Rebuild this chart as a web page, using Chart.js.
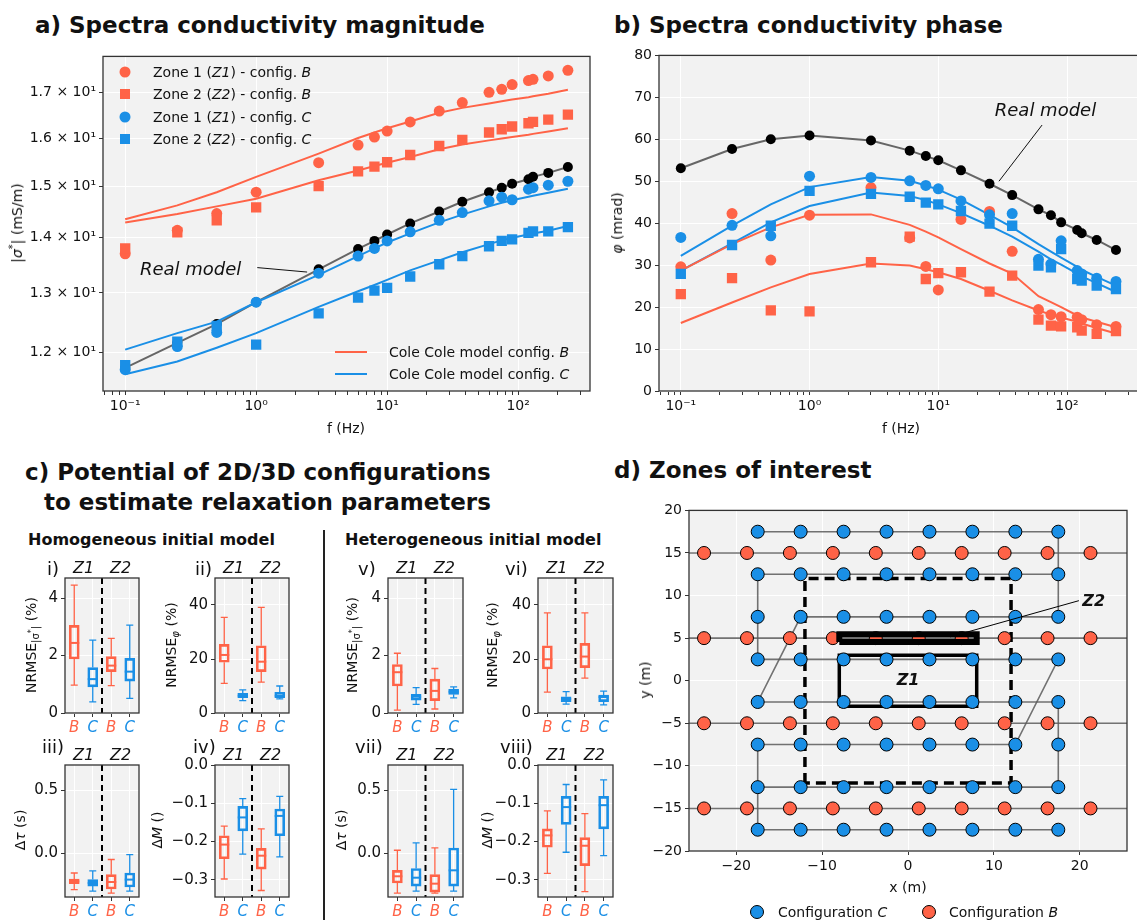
<!DOCTYPE html>
<html>
<head>
<meta charset="utf-8">
<script src="https://cdn.jsdelivr.net/npm/chart.js@4.4.1/dist/chart.umd.min.js"></script>
<style>
  body { margin: 0; width: 1137px; height: 920px; overflow: hidden; background: #fff; position: relative;
         font-family: 'DejaVu Sans', sans-serif; color: #111; }
  canvas { position: absolute; }
  .t { position: absolute; white-space: nowrap; line-height: 1; }
  .l { transform: translateY(-50%); }
  .c { transform: translate(-50%, -50%); }
  .rot { transform: translate(-50%, -50%) rotate(-90deg); }
  .h { font-weight: bold; font-size: 23px; }
  .h2 { font-weight: bold; font-size: 16px; }
  .ax { font-size: 14px; }
  .rn { font-size: 18px; }
  .sub { font-size: 10px; vertical-align: -3px; }
  .sup { font-size: 10px; vertical-align: 6px; }
  .dot { position: absolute; transform: translate(-50%, -50%); }
</style>
</head>
<body>
<script>
const RED = '#ff6347';
const BLUE = '#1a8fe6';

// frequencies (Hz)
const freq = [0.1, 0.25, 0.5, 1, 3, 6, 8, 10, 15, 25, 37.5, 60, 75, 90, 120, 130, 170, 240];

// a) |sigma*| (mS/m)
const magReal = [11.76, 12.16, 12.47, 12.84, 13.42, 13.79, 13.94, 14.06, 14.27, 14.50, 14.69, 14.88, 14.97, 15.05, 15.14, 15.19, 15.27, 15.39];
const magZ1B = [13.70, 14.14, 14.46, 14.88, 15.48, 15.85, 16.02, 16.15, 16.35, 16.59, 16.78, 17.01, 17.08, 17.19, 17.28, 17.31, 17.39, 17.52];
const magZ2B = [13.80, 14.10, 14.33, 14.58, 15.00, 15.30, 15.40, 15.49, 15.64, 15.83, 15.96, 16.12, 16.19, 16.25, 16.32, 16.35, 16.40, 16.51];
const magZ1C = [11.73, 12.10, 12.33, 12.84, 13.35, 13.66, 13.80, 13.94, 14.11, 14.33, 14.48, 14.71, 14.78, 14.73, 14.94, 14.97, 15.02, 15.10];
const magZ2C = [11.80, 12.18, 12.44, 12.13, 12.65, 12.92, 13.04, 13.09, 13.29, 13.51, 13.66, 13.84, 13.94, 13.97, 14.09, 14.12, 14.12, 14.20];
const magFitZ1B = [14.35, 14.62, 14.88, 15.19, 15.67, 16.00, 16.12, 16.21, 16.36, 16.55, 16.66, 16.76, 16.81, 16.85, 16.90, 16.92, 16.98, 17.07];
const magFitZ2B = [14.29, 14.45, 14.60, 14.75, 15.12, 15.32, 15.41, 15.48, 15.60, 15.76, 15.86, 15.95, 15.99, 16.02, 16.07, 16.09, 16.14, 16.21];
const magFitZ1C = [12.05, 12.32, 12.51, 12.84, 13.32, 13.66, 13.80, 13.91, 14.08, 14.29, 14.44, 14.60, 14.67, 14.72, 14.79, 14.81, 14.87, 14.95];
const magFitZ2C = [11.66, 11.86, 12.08, 12.32, 12.76, 13.03, 13.14, 13.23, 13.40, 13.58, 13.73, 13.88, 13.95, 14.00, 14.06, 14.08, 14.13, 14.22];

// b) phase (mrad)
const phaReal = [53.1, 57.7, 60.0, 60.9, 59.7, 57.3, 56.0, 55.0, 52.6, 49.4, 46.7, 43.3, 41.9, 40.2, 38.4, 37.6, 36.0, 33.6];
const phaZ1B = [29.6, 42.3, 31.2, 41.9, 48.5, 36.5, 29.7, 24.1, 40.9, 42.8, 33.3, 19.4, 18.2, 17.7, 17.6, 17.0, 15.8, 15.4];
const phaZ2B = [23.1, 26.9, 19.2, 19.0, 30.7, 36.8, 26.7, 28.1, 28.3, 23.7, 27.5, 17.0, 15.6, 15.4, 15.2, 14.4, 13.6, 14.3];
const phaZ1C = [36.6, 39.5, 37.0, 51.2, 50.9, 50.1, 49.0, 48.2, 45.3, 42.0, 42.3, 31.4, 30.3, 35.8, 28.7, 27.9, 26.9, 26.1];
const phaZ2C = [27.9, 34.8, 39.4, 47.7, 47.0, 46.3, 44.9, 44.5, 42.9, 39.9, 39.4, 29.9, 29.5, 33.8, 26.7, 26.3, 25.1, 24.3];
const phaFitZ1B = [28.7, 35.0, 39.0, 42.0, 42.1, 39.6, 38.0, 36.6, 33.8, 30.4, 28.0, 22.6, 21.2, 20.0, 18.0, 17.5, 16.5, 15.2];
const phaFitZ2B = [16.2, 21.1, 24.7, 27.9, 30.4, 29.9, 29.0, 28.3, 26.7, 23.9, 21.6, 19.2, 18.2, 17.5, 16.5, 16.1, 15.0, 13.7];
const phaFitZ1C = [32.2, 39.4, 44.5, 48.6, 51.0, 50.1, 49.0, 48.0, 45.6, 42.0, 39.0, 35.0, 33.2, 31.8, 29.6, 28.9, 27.2, 25.1];
const phaFitZ2C = [28.7, 35.2, 40.2, 44.1, 47.3, 46.5, 45.5, 44.5, 42.4, 39.4, 36.8, 33.2, 31.4, 30.1, 28.0, 27.3, 25.7, 23.6];

// tick values / labels
const logTicks = [0.07, 0.08, 0.09, 0.1, 0.2, 0.3, 0.4, 0.5, 0.6, 0.7, 0.8, 0.9, 1, 2, 3, 4, 5, 6, 7, 8, 9,
                  10, 20, 30, 40, 50, 60, 70, 80, 90, 100, 200, 300];
const decadeLabels = { 0.1: '10\u207B\u00B9', 1: '10\u2070', 10: '10\u00B9', 100: '10\u00B2' };
const magTicks = [12, 13, 14, 15, 16, 17];
const magTickLabels = ['1.2 \u00D7 10\u00B9', '1.3 \u00D7 10\u00B9', '1.4 \u00D7 10\u00B9', '1.5 \u00D7 10\u00B9', '1.6 \u00D7 10\u00B9', '1.7 \u00D7 10\u00B9'];
const phaTicks = [0, 10, 20, 30, 40, 50, 60, 70, 80];

// c) boxes: [low whisker, Q1, median, Q3, high whisker] for Z1-B, Z1-C, Z2-B, Z2-C
const boxCats = ['B', 'C', 'B', 'C'];
const zoneNames = ['Z1', 'Z2'];
const homMag = [[0.97, 1.88, 2.44, 3.05, 4.45], [0.39, 0.91, 1.18, 1.58, 2.54], [0.95, 1.44, 1.65, 1.96, 2.60], [0.51, 1.11, 1.44, 1.90, 3.06]];
const homPha = [[11.0, 18.8, 21.5, 25.4, 35.4], [4.6, 5.7, 6.4, 7.3, 8.6], [11.4, 15.3, 19.0, 24.9, 39.1], [5.2, 5.7, 6.4, 7.7, 10.0]];
const homTau = [[-0.284, -0.237, -0.219, -0.200, -0.153], [-0.295, -0.256, -0.232, -0.205, -0.137], [-0.311, -0.279, -0.224, -0.166, -0.047], [-0.295, -0.263, -0.205, -0.153, -0.008]];
const homM = [[-0.298, -0.245, -0.208, -0.185, -0.160], [-0.233, -0.172, -0.137, -0.108, -0.088], [-0.328, -0.272, -0.237, -0.218, -0.167], [-0.240, -0.185, -0.133, -0.115, -0.082]];
const hetMag = [[0.10, 0.94, 1.42, 1.69, 2.08], [0.30, 0.45, 0.57, 0.65, 0.88], [0.14, 0.43, 0.77, 1.18, 1.55], [0.53, 0.65, 0.74, 0.82, 0.91]];
const hetPha = [[7.7, 16.3, 19.9, 24.9, 37.1], [3.3, 4.2, 5.2, 6.0, 7.9], [12.9, 16.8, 20.9, 25.8, 37.1], [3.0, 4.2, 5.9, 6.6, 8.1]];
const hetTau = [[-0.311, -0.232, -0.179, -0.132, 0.026], [-0.295, -0.256, -0.190, -0.118, 0.084], [-0.311, -0.303, -0.237, -0.166, 0.044], [-0.295, -0.256, -0.132, 0.044, 0.505]];
const hetM = [[-0.283, -0.215, -0.184, -0.167, -0.120], [-0.228, -0.155, -0.110, -0.082, -0.051], [-0.331, -0.263, -0.211, -0.190, -0.127], [-0.237, -0.167, -0.105, -0.082, -0.039]];

// d) electrode layout (m)
const elecCx = [-17.5, -12.5, -7.5, -2.5, 2.5, 7.5, 12.5, 17.5];
const elecCy = [17.5, 12.5, 7.5, 2.5, -2.5, -7.5, -12.5, -17.5];
const elecBx = [-23.75, -18.75, -13.75, -8.75, -3.75, 1.25, 6.25, 11.25, 16.25, 21.25];
const elecBy = [15, 5, -5, -15];
const cableB = [[[-26, 15], [26, 15]], [[-26, 5], [26, 5]], [[-26, -5], [26, -5]], [[-26, -15], [26, -15]]];
const cableC = [
  [[17.5, 12.5], [-17.5, 12.5], [-17.5, 2.5], [17.5, 2.5], [12.5, -7.5], [-17.5, -7.5], [-17.5, -17.5], [17.5, -17.5]],
  [[-17.5, -12.5], [17.5, -12.5], [17.5, -2.5], [-17.5, -2.5], [-12.5, 7.5], [17.5, 7.5], [17.5, 17.5], [-17.5, 17.5]]
];
const zoneBig = [[-12, -12], [-12, 12], [12, 12], [12, -12], [-12, -12]];
const zone1 = [[-8, -3], [-8, 3], [8, 3], [8, -3], [-8, -3]];
const zone2 = [[-8, 4.55], [-8, 5.45], [8, 5.45], [8, 4.55], [-8, 4.55]];

Chart.defaults.font.family = "'DejaVu Sans', sans-serif";
Chart.defaults.font.size = 14;
Chart.defaults.color = '#111';

// light background + black frame like the matplotlib axes
Chart.register({
  id: 'frame',
  beforeDraw(chart) {
    const a = chart.chartArea, ctx = chart.ctx;
    ctx.save();
    ctx.fillStyle = '#f2f2f2';
    ctx.fillRect(a.left, a.top, a.right - a.left, a.bottom - a.top);
    ctx.restore();
  },
  afterDraw(chart) {
    const a = chart.chartArea, ctx = chart.ctx;
    ctx.save();
    ctx.strokeStyle = '#333';
    ctx.lineWidth = 1.3;
    ctx.strokeRect(a.left, a.top, a.right - a.left, a.bottom - a.top);
    ctx.restore();
  }
});

function notes(list) {
  return {
    id: 'notes',
    afterDatasetsDraw(chart) {
      const { ctx, scales: { x, y } } = chart;
      ctx.save();
      list.forEach(n => {
        ctx.font = n.font;
        ctx.fillStyle = '#111';
        ctx.textAlign = n.align;
        ctx.textBaseline = 'middle';
        ctx.fillText(n.text, x.getPixelForValue(n.x), y.getPixelForValue(n.y));
      });
      ctx.restore();
    }
  };
}

function makeChart(r, pad, cfg) {
  const cv = document.createElement('canvas');
  const w = r.r - r.l + pad.l + pad.r, h = r.b - r.t + pad.t + pad.b;
  cv.width = w; cv.height = h;
  cv.style.left = (r.l - pad.l) + 'px';
  cv.style.top = (r.t - pad.t) + 'px';
  document.body.appendChild(cv);
  cfg.options.responsive = false;
  cfg.options.animation = false;
  cfg.options.devicePixelRatio = 1;
  cfg.options.events = [];
  return new Chart(cv, cfg);
}

function txt(html, x, y, cls, style) {
  const d = document.createElement('div');
  d.className = 't ' + cls;
  d.innerHTML = html;
  d.style.left = x + 'px';
  d.style.top = y + 'px';
  if (style) d.style.cssText += style;
  document.body.appendChild(d);
}

const pts = arr => freq.map((f, i) => ({ x: f, y: arr[i] }));
const xy = arr => arr.map(p => ({ x: p[0], y: p[1] }));
const tickGrid = { color: '#fff', lineWidth: 1, tickColor: '#333', tickLength: 4 };

function dataSet(arr, color, style, radius, order) {
  return { data: pts(arr), showLine: false, pointStyle: style, pointRadius: radius,
           pointBackgroundColor: color, pointBorderWidth: 0, order: order };
}
function fitSet(arr, color) {
  return { data: pts(arr), showLine: true, borderColor: color, borderWidth: 2, pointRadius: 0, order: 8 };
}
function realSet(arr) {
  return { data: pts(arr), showLine: true, borderColor: '#666', borderWidth: 2, pointRadius: 5,
           pointBackgroundColor: '#000', pointBorderWidth: 0, order: 10 };
}
function logX(padB) {
  return {
    type: 'logarithmic', min: 0.0677, max: 354,
    grid: { ...tickGrid, color: c => (c.tick && decadeLabels[c.tick.value]) ? '#fff' : 'rgba(0,0,0,0)' },
    border: { display: false },
    afterBuildTicks: s => { s.ticks = logTicks.map(v => ({ value: v })); },
    ticks: { autoSkip: false, maxRotation: 0, padding: 3, callback: v => decadeLabels[v] || '' },
    afterFit: s => { s.height = padB; }
  };
}

// ---------- a) magnitude ----------
makeChart({ l: 103, t: 55, r: 590, b: 391 }, { l: 103, r: 12, t: 10, b: 50 }, {
  type: 'scatter',
  data: { datasets: [
    realSet(magReal),
    fitSet(magFitZ1B, RED), fitSet(magFitZ2B, RED), fitSet(magFitZ1C, BLUE), fitSet(magFitZ2C, BLUE),
    dataSet(magZ1B, RED, 'circle', 5.5, 4), dataSet(magZ2B, RED, 'rect', 7.3, 3),
    dataSet(magZ1C, BLUE, 'circle', 5.5, 2), dataSet(magZ2C, BLUE, 'rect', 7.3, 1),
    { data: xy([[1.02, 13.45], [2.45, 13.37]]), showLine: true, borderColor: '#111', borderWidth: 1, pointRadius: 0, order: 0 }
  ] },
  options: {
    layout: { padding: { left: 0, right: 12, top: 10, bottom: 0 } },
    plugins: { legend: { display: false }, tooltip: { enabled: false } },
    scales: {
      x: logX(50),
      y: {
        type: 'logarithmic', min: 11.42, max: 17.85,
        grid: tickGrid, border: { display: false },
        afterBuildTicks: s => { s.ticks = magTicks.map(v => ({ value: v })); },
        ticks: { autoSkip: false, padding: 3, callback: (v, i) => magTickLabels[i] },
        afterFit: s => { s.width = 103; }
      }
    }
  },
  plugins: [notes([{ x: 0.77, y: 13.4, text: 'Real model', align: 'right', font: "italic 18px 'DejaVu Sans'" }])]
});

// ---------- b) phase ----------
makeChart({ l: 659, t: 54, r: 1143, b: 391 }, { l: 50, r: 2, t: 10, b: 50 }, {
  type: 'scatter',
  data: { datasets: [
    realSet(phaReal),
    fitSet(phaFitZ1B, RED), fitSet(phaFitZ2B, RED), fitSet(phaFitZ1C, BLUE), fitSet(phaFitZ2C, BLUE),
    dataSet(phaZ1B, RED, 'circle', 5.5, 4), dataSet(phaZ2B, RED, 'rect', 7.3, 3),
    dataSet(phaZ1C, BLUE, 'circle', 5.5, 2), dataSet(phaZ2C, BLUE, 'rect', 7.3, 1),
    { data: xy([[64, 63.4], [29.6, 50.0]]), showLine: true, borderColor: '#111', borderWidth: 1, pointRadius: 0, order: 0 }
  ] },
  options: {
    layout: { padding: { left: 0, right: 2, top: 10, bottom: 0 } },
    plugins: { legend: { display: false }, tooltip: { enabled: false } },
    scales: {
      x: logX(50),
      y: {
        min: 0, max: 80, grid: tickGrid, border: { display: false },
        afterBuildTicks: s => { s.ticks = phaTicks.map(v => ({ value: v })); },
        ticks: { padding: 3 },
        afterFit: s => { s.width = 50; }
      }
    }
  },
  plugins: [notes([{ x: 68, y: 66.7, text: 'Real model', align: 'center', font: "italic 18px 'DejaVu Sans'" }])]
});

// ---------- c) box plots ----------
const boxColors = [RED, BLUE, RED, BLUE];
const minus = v => String(v).replace('-', '\u2212');

function boxChart(r, stats, yMin, yMax, yTicks, yLabels) {
  const whiskers = {
    id: 'whiskers',
    afterDatasetsDraw(chart) {
      const { ctx, chartArea: a, scales: { x, y, xTop } } = chart;
      ctx.save();
      stats.forEach((s, i) => {
        const px = x.getPixelForValue(i);
        ctx.strokeStyle = boxColors[i];
        ctx.lineWidth = 1.3;
        ctx.beginPath();
        ctx.moveTo(px, y.getPixelForValue(s[0])); ctx.lineTo(px, y.getPixelForValue(s[1]));
        ctx.moveTo(px, y.getPixelForValue(s[3])); ctx.lineTo(px, y.getPixelForValue(s[4]));
        ctx.moveTo(px - 3.5, y.getPixelForValue(s[0])); ctx.lineTo(px + 3.5, y.getPixelForValue(s[0]));
        ctx.moveTo(px - 3.5, y.getPixelForValue(s[4])); ctx.lineTo(px + 3.5, y.getPixelForValue(s[4]));
        ctx.stroke();
        ctx.lineWidth = 2;
        ctx.beginPath();
        ctx.moveTo(px - 5, y.getPixelForValue(s[2])); ctx.lineTo(px + 5, y.getPixelForValue(s[2]));
        ctx.stroke();
      });
      const sx = xTop.getPixelForValue(1.5);
      ctx.strokeStyle = '#000';
      ctx.lineWidth = 2;
      ctx.setLineDash([6, 4]);
      ctx.beginPath();
      ctx.moveTo(sx, a.top); ctx.lineTo(sx, a.bottom);
      ctx.stroke();
      ctx.restore();
    }
  };
  return makeChart(r, { l: 48, r: 4, t: 24, b: 28 }, {
    type: 'bar',
    data: { labels: boxCats, datasets: [{
      data: stats.map(s => [s[1], s[3]]),
      borderColor: boxColors, backgroundColor: 'rgba(0,0,0,0)',
      borderWidth: 2, borderSkipped: false, barThickness: 10
    }] },
    options: {
      layout: { padding: { left: 0, right: 4, top: 0, bottom: 0 } },
      plugins: { legend: { display: false }, tooltip: { enabled: false } },
      scales: {
        x: {
          grid: { ...tickGrid, offset: false }, border: { display: false },
          ticks: { color: c => boxColors[c.index], font: { size: 15, style: 'italic' }, padding: 2,
                   maxRotation: 0, minRotation: 0, autoSkip: false },
          afterFit: s => { s.height = 28; }
        },
        xTop: {
          type: 'linear', position: 'top', min: -0.5, max: 3.5, offset: false,
          grid: { display: false, drawTicks: false, offset: false }, border: { display: false },
          afterBuildTicks: s => { s.ticks = [{ value: 0.5 }, { value: 2.5 }]; },
          ticks: { callback: (v, i) => zoneNames[i], font: { size: 16, style: 'italic' }, padding: 0,
                   maxRotation: 0, minRotation: 0, autoSkip: false },
          afterFit: s => { s.height = 24; }
        },
        y: {
          min: yMin, max: yMax, grid: tickGrid, border: { display: false },
          afterBuildTicks: s => { s.ticks = yTicks.map(v => ({ value: v })); },
          ticks: { font: { size: 15 }, padding: 3, callback: (v, i) => yLabels[i] },
          afterFit: s => { s.width = 48; }
        }
      }
    },
    plugins: [whiskers]
  });
}

const magAx = [0, 4.7, [0, 2, 4], ['0', '2', '4']];
const phaAx = [0, 50, [0, 20, 40], ['0', '20', '40']];
const tauAx = [-0.342, 0.697, [0, 0.5], ['0.0', '0.5']];
const mAx = [-0.345, 0, [0, -0.1, -0.2, -0.3], ['0.0', '\u22120.1', '\u22120.2', '\u22120.3']];

boxChart({ l: 65, t: 578, r: 139, b: 713 }, homMag, ...magAx);
boxChart({ l: 215, t: 578, r: 289, b: 713 }, homPha, ...phaAx);
boxChart({ l: 65, t: 765, r: 139, b: 897 }, homTau, ...tauAx);
boxChart({ l: 215, t: 765, r: 289, b: 897 }, homM, ...mAx);
boxChart({ l: 388, t: 578, r: 463, b: 713 }, hetMag, ...magAx);
boxChart({ l: 538, t: 578, r: 613, b: 713 }, hetPha, ...phaAx);
boxChart({ l: 388, t: 765, r: 463, b: 897 }, hetTau, ...tauAx);
boxChart({ l: 538, t: 765, r: 613, b: 897 }, hetM, ...mAx);

// ---------- d) zones of interest ----------
const lineSet = (arr, w, dash, order) => ({ data: xy(arr), showLine: true, borderColor: '#000', borderWidth: w,
  borderDash: dash || [], pointRadius: 0, order: order });
const cableSets = cableB.concat(cableC).map(c => ({ data: xy(c), showLine: true, borderColor: 'rgba(90,90,90,0.85)',
  borderWidth: 1.6, pointRadius: 0, order: 20 }));
const elecC = elecCy.flatMap(y => elecCx.map(x => ({ x, y })));
const elecB = elecBy.flatMap(y => elecBx.map(x => ({ x, y })));

makeChart({ l: 689, t: 509, r: 1127, b: 851 }, { l: 50, r: 10, t: 10, b: 30 }, {
  type: 'scatter',
  data: { datasets: cableSets.concat([
    lineSet(zoneBig, 3.5, [10, 6], 15),
    lineSet(zone1, 3.5, null, 14),
    { data: elecC, pointRadius: 6.5, pointBackgroundColor: BLUE, pointBorderColor: '#000', pointBorderWidth: 1, order: 5 },
    { data: elecB, pointRadius: 6.5, pointBackgroundColor: RED, pointBorderColor: '#000', pointBorderWidth: 1, order: 4 },
    lineSet(zone2, 6, null, 1),
    lineSet([[19.9, 9.4], [4.9, 5.15]], 1, null, 0)
  ]) },
  options: {
    layout: { padding: { left: 0, right: 10, top: 10, bottom: 0 } },
    plugins: { legend: { display: false }, tooltip: { enabled: false } },
    scales: {
      x: {
        type: 'linear', min: -25.5, max: 25.5, grid: tickGrid, border: { display: false },
        afterBuildTicks: s => { s.ticks = [-20, -10, 0, 10, 20].map(v => ({ value: v })); },
        ticks: { padding: 3, callback: v => minus(v) },
        afterFit: s => { s.height = 30; }
      },
      y: {
        min: -20, max: 20, grid: tickGrid, border: { display: false },
        afterBuildTicks: s => { s.ticks = [-20, -15, -10, -5, 0, 5, 10, 15, 20].map(v => ({ value: v })); },
        ticks: { padding: 3, callback: v => minus(v) },
        afterFit: s => { s.width = 50; }
      }
    }
  },
  plugins: [notes([
    { x: 0, y: 0, text: 'Z1', align: 'center', font: "italic bold 16px 'DejaVu Sans'" },
    { x: 20.3, y: 9.3, text: 'Z2', align: 'left', font: "italic bold 16px 'DejaVu Sans'" }
  ])]
});

// ---------- titles, axis labels, legends ----------
txt('a) Spectra conductivity magnitude', 35, 25, 'l h');
txt('b) Spectra conductivity phase', 614, 25, 'l h');
txt('c) Potential of 2D/3D configurations', 25, 472, 'l h');
txt('to estimate relaxation parameters', 44, 502, 'l h');
txt('d) Zones of interest', 614, 470, 'l h');

txt('f (Hz)', 346, 428, 'c ax');
txt('|<i>σ</i><span class="sup">*</span>| (mS/m)', 16, 223, 'rot ax');
txt('f (Hz)', 901, 428, 'c ax');
txt('<i>φ</i> (mrad)', 617, 223, 'rot ax');
txt('x (m)', 908, 887, 'c ax');
txt('y (m)', 645, 680, 'rot ax');

txt('Homogeneous initial model', 28, 540, 'l h2');
txt('Heterogeneous initial model', 345, 540, 'l h2');
const sep = document.createElement('div');
sep.style.cssText = 'position:absolute;left:323px;top:530px;width:1.5px;height:400px;background:#222;';
document.body.appendChild(sep);

[['i)', 47, 569], ['ii)', 195, 569], ['v)', 358, 569], ['vi)', 505, 569],
 ['iii)', 42, 747], ['iv)', 193, 747], ['vii)', 355, 747], ['viii)', 500, 747]]
  .forEach(r => txt(r[0], r[1], r[2], 'l rn'));

const nrmseMag = 'NRMSE<span class="sub">|σ<sup style="font-size:8px">*</sup>|</span> (%)';
const nrmsePha = 'NRMSE<span class="sub"><i>φ</i></span> (%)';
txt(nrmseMag, 32, 645, 'rot ax');
txt(nrmsePha, 172, 645, 'rot ax');
txt(nrmseMag, 353, 645, 'rot ax');
txt(nrmsePha, 493, 645, 'rot ax');
txt('Δ<i>τ</i> (s)', 20, 830, 'rot ax');
txt('Δ<i>M</i> ()', 157, 830, 'rot ax');
txt('Δ<i>τ</i> (s)', 341, 830, 'rot ax');
txt('Δ<i>M</i> ()', 487, 830, 'rot ax');

// legend of a)
function marker(x, y, color, shape, size, border) {
  const d = document.createElement('div');
  d.className = 'dot';
  d.style.cssText += `left:${x}px;top:${y}px;width:${size}px;height:${size}px;background:${color};` +
    (shape === 'circle' ? 'border-radius:50%;' : '') + (border ? 'border:1px solid #000;' : '');
  document.body.appendChild(d);
}
[['Zone 1 (<i>Z1</i>) - config. <i>B</i>', RED, 'circle', 72],
 ['Zone 2 (<i>Z2</i>) - config. <i>B</i>', RED, 'rect', 94],
 ['Zone 1 (<i>Z1</i>) - config. <i>C</i>', BLUE, 'circle', 117],
 ['Zone 2 (<i>Z2</i>) - config. <i>C</i>', BLUE, 'rect', 139]].forEach(e => {
  marker(125, e[3], e[1], e[2], e[2] === 'circle' ? 11 : 10);
  txt(e[0], 153, e[3], 'l ax');
});
[['Cole Cole model config. <i>B</i>', RED, 352], ['Cole Cole model config. <i>C</i>', BLUE, 374]].forEach(e => {
  const d = document.createElement('div');
  d.style.cssText = `position:absolute;left:335px;top:${e[2] - 1}px;width:32px;height:2px;background:${e[1]};`;
  document.body.appendChild(d);
  txt(e[0], 389, e[2], 'l ax');
});

// legend of d)
marker(757, 912, BLUE, 'circle', 12, true);
txt('Configuration <i>C</i>', 778, 912, 'l ax');
marker(929, 912, RED, 'circle', 12, true);
txt('Configuration <i>B</i>', 949, 912, 'l ax');
</script>
</body>
</html>
